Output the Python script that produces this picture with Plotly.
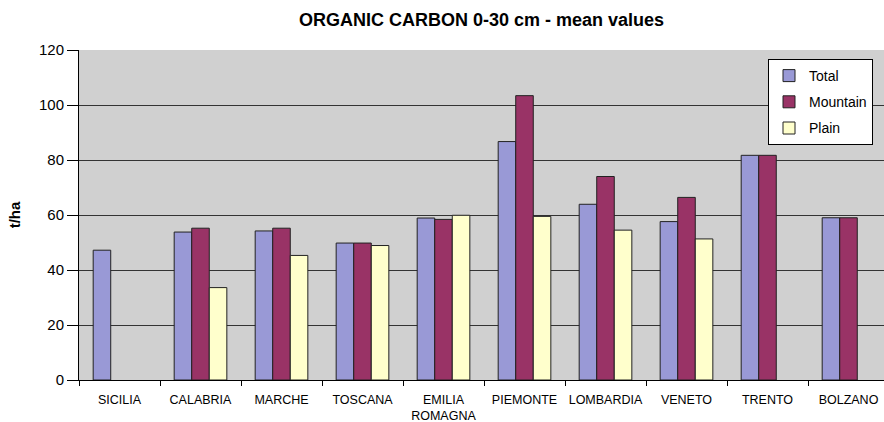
import plotly.graph_objects as go

categories = ["SICILIA", "CALABRIA", "MARCHE", "TOSCANA", "EMILIA<br>ROMAGNA",
              "PIEMONTE", "LOMBARDIA", "VENETO", "TRENTO", "BOLZANO"]
total = [47.2, 53.8, 54.2, 49.8, 58.9, 86.7, 63.9, 57.6, 81.7, 59.0]
mountain = [None, 55.2, 55.2, 49.8, 58.4, 103.4, 74.0, 66.4, 81.7, 59.0]
plain = [None, 33.6, 45.3, 48.9, 59.9, 59.5, 54.5, 51.3, None, None]

tick_vals = [0, 20, 40, 60, 80, 100, 120]

FONT = "Liberation Sans, Arial, sans-serif"

fig = go.Figure()
for name, vals, color in [("Total", total, "#9999D6"),
                          ("Mountain", mountain, "#993366"),
                          ("Plain", plain, "#FFFFCC")]:
    fig.add_trace(go.Bar(x=categories, y=vals, name=name, legendgroup=name,
                         marker=dict(color=color, line=dict(color="#222222", width=1))))

fig.update_layout(
    width=884, height=422,
    margin=dict(l=79, r=0, t=50, b=42),
    paper_bgcolor="white",
    plot_bgcolor="#D0D0D0",
    barmode="group", bargap=0.35, bargroupgap=0,
    font=dict(family=FONT, color="black"),
    title=dict(text="<b>ORGANIC CARBON 0-30 cm - mean values</b>",
               x=(79 + 884) / 2 / 884, xref="container", xanchor="center",
               y=1 - 20 / 422, yref="container", yanchor="middle",
               font=dict(size=18, family=FONT, color="black")),
    legend=dict(x=(768 - 79) / 805, y=1 - 9 / 330, xanchor="left", yanchor="top",
                bgcolor="white", bordercolor="black", borderwidth=1,
                font=dict(size=14, family=FONT), tracegroupgap=5,
                itemwidth=30),
    showlegend=True,
)

fig.update_xaxes(
    type="category", range=[-0.5, -0.5 + 805 / 81],
    tickson="boundaries", ticks="outside", ticklen=5, tickcolor="black",
    showline=True, linecolor="black", linewidth=1,
    tickfont=dict(size=12.5, family=FONT, color="black"), tickangle=0,
    ticklabelstandoff=8,
    showgrid=False, automargin=False,
)
fig.update_yaxes(
    range=[0, 120], tickvals=tick_vals,
    ticks="outside", ticklen=11, tickcolor="black",
    showline=True, linecolor="black", linewidth=1,
    showgrid=True, gridcolor="#333333", gridwidth=1,
    tickfont=dict(size=15, family=FONT, color="black"),
    title=dict(text="<b>t/ha</b>", font=dict(size=15, family=FONT), standoff=14),
    zeroline=False, automargin=False,
)

fig.write_html("out.html", post_script="document.body.style.margin='0';",
               config={"displayModeBar": False})
